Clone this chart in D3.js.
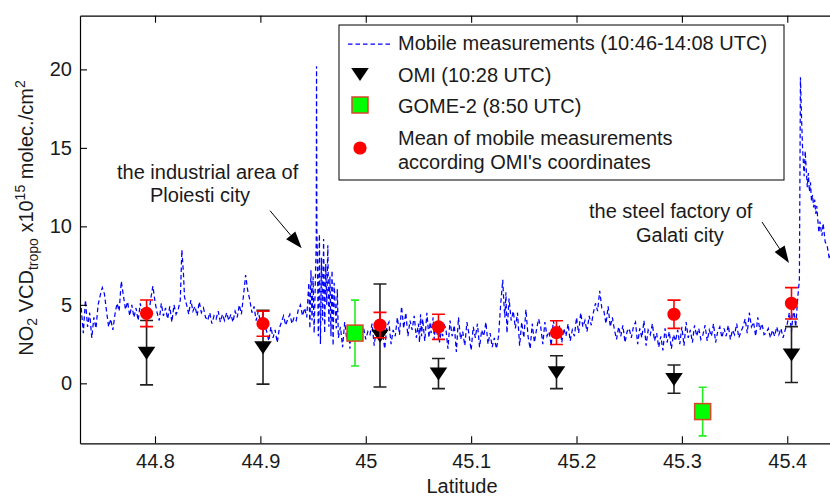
<!DOCTYPE html>
<html><head><meta charset="utf-8">
<script src="https://cdn.jsdelivr.net/npm/d3@7"></script>
<style>
html,body{margin:0;padding:0;background:#fff;}
svg{display:block;font-family:"Liberation Sans",Arial,sans-serif;}
text{white-space:pre;}
</style></head><body>
<svg id="chart" width="830" height="496"></svg>
<script>
// ---------- data ----------
const xTicks = [44.8, 44.9, 45.0, 45.1, 45.2, 45.3, 45.4];
const xTickLabels = ["44.8", "44.9", "45", "45.1", "45.2", "45.3", "45.4"];
const yTicks = [0, 5, 10, 15, 20];
const legendLabels = ["Mobile measurements (10:46-14:08 UTC)", "OMI (10:28 UTC)", "GOME-2 (8:50 UTC)",
  "Mean of mobile measurements", "according OMI's coordinates"];

// mobile measurements [latitude, NO2 VCD]
const mobileSeries = [
[44.730,4.8],[44.732,3.2],[44.734,5.3],[44.736,3.6],[44.738,4.5],[44.740,2.9],[44.742,4.2],[44.744,3.5],
[44.746,5.0],[44.748,5.6],[44.750,6.1],[44.752,5.7],[44.754,4.6],[44.756,3.6],[44.758,4.1],[44.760,3.4],
[44.762,4.4],[44.764,5.1],[44.766,4.6],[44.768,6.5],[44.770,5.6],[44.772,4.7],[44.774,5.2],[44.776,4.3],
[44.778,5.0],[44.780,4.2],[44.782,4.8],[44.784,4.0],[44.786,5.1],[44.788,4.4],[44.790,4.7],[44.792,5.0],
[44.794,4.3],[44.796,5.4],[44.798,6.2],[44.800,5.2],[44.802,4.5],[44.804,4.0],[44.806,5.1],[44.808,4.3],
[44.810,4.8],[44.812,4.1],[44.814,4.9],[44.816,3.9],[44.818,5.0],[44.820,4.4],[44.822,4.7],[44.824,5.3],
[44.8255,8.5],[44.827,7.0],[44.828,5.5],[44.830,5.0],[44.832,4.4],[44.834,5.3],[44.836,4.6],[44.838,4.9],
[44.840,4.3],[44.842,5.2],[44.844,4.5],[44.846,4.8],[44.848,4.2],[44.850,4.0],[44.852,4.5],[44.854,3.8],
[44.856,4.3],[44.858,4.1],[44.860,4.6],[44.862,3.9],[44.864,4.4],[44.866,4.0],[44.868,4.5],[44.870,4.0],
[44.872,4.4],[44.874,3.9],[44.876,4.6],[44.878,4.2],[44.880,5.0],[44.882,4.4],[44.884,5.6],[44.886,6.9],
[44.888,5.9],[44.890,5.3],[44.892,4.5],[44.894,4.9],[44.896,4.0],[44.898,4.6],[44.900,3.9],[44.902,4.4],
[44.904,3.7],[44.906,3.3],[44.908,2.7],[44.910,3.6],[44.912,2.9],[44.914,3.4],[44.916,2.6],[44.918,3.5],
[44.920,3.9],[44.922,4.3],[44.924,3.7],[44.926,4.1],[44.928,4.4],[44.930,3.8],[44.932,4.2],[44.934,4.0],
[44.936,4.7],[44.938,5.0],[44.940,4.3],[44.942,4.8],[44.944,4.2],[44.946,6.4],[44.947,3.5],[44.948,7.2],
[44.949,4.0],[44.950,6.8],[44.951,3.2],[44.952,6.0],[44.9530,9.0],[44.9533,20.2],[44.9536,9.8],
[44.954,8.4],[44.955,3.0],[44.956,9.5],[44.957,2.5],[44.958,8.0],[44.959,4.0],[44.960,9.2],[44.961,3.2],
[44.962,7.6],[44.963,5.0],[44.964,8.8],[44.965,3.6],[44.966,6.8],[44.967,3.0],[44.968,7.2],[44.969,2.4],
[44.970,6.4],[44.972,3.5],[44.973,6.0],[44.974,2.9],[44.976,3.6],[44.978,2.3],[44.980,3.9],[44.982,2.8],
[44.984,3.3],[44.985,2.2],[44.986,3.7],[44.988,3.2],[44.990,3.6],[44.992,2.9],[44.994,3.4],[44.996,3.0],
[44.998,3.5],[45.000,2.8],[45.002,3.3],[45.004,3.1],[45.006,3.8],[45.008,2.4],[45.010,3.5],[45.012,4.0],
[45.014,2.7],[45.016,3.2],[45.018,2.2],[45.020,3.6],[45.022,3.9],[45.024,2.5],[45.026,3.4],[45.028,3.0],
[45.030,4.2],[45.032,3.1],[45.034,4.9],[45.036,3.5],[45.038,4.5],[45.040,3.0],[45.042,4.0],[45.044,3.4],
[45.046,4.3],[45.048,2.9],[45.050,3.8],[45.051,2.6],[45.052,4.4],[45.053,3.0],[45.054,4.1],[45.056,2.7],
[45.057,3.6],[45.058,4.5],[45.060,2.9],[45.061,3.9],[45.062,3.2],[45.064,4.2],[45.065,2.8],[45.066,3.7],
[45.068,3.1],[45.069,4.0],[45.070,2.6],[45.072,3.5],[45.073,3.0],[45.074,3.8],[45.076,3.5],[45.078,2.2],
[45.080,4.0],[45.082,3.0],[45.084,3.7],[45.086,2.0],[45.088,4.2],[45.090,2.8],[45.092,3.3],[45.094,2.4],
[45.096,3.9],[45.098,3.1],[45.100,2.1],[45.102,3.6],[45.104,2.9],[45.106,3.8],[45.108,2.3],[45.110,3.4],
[45.112,3.0],[45.114,3.9],[45.116,2.5],[45.118,3.2],[45.120,2.3],[45.122,2.9],[45.124,2.2],[45.126,3.0],
[45.128,5.0],[45.130,6.6],[45.131,5.2],[45.132,4.2],[45.133,5.8],[45.134,3.2],[45.136,5.4],[45.138,4.0],
[45.140,4.6],[45.142,3.5],[45.144,4.5],[45.146,2.4],[45.148,3.9],[45.150,2.9],[45.152,4.7],[45.154,3.0],
[45.156,2.2],[45.158,3.8],[45.160,2.6],[45.162,3.4],[45.164,4.1],[45.166,3.6],[45.168,2.5],[45.170,3.9],
[45.172,3.0],[45.174,3.3],[45.176,2.4],[45.178,4.0],[45.180,3.2],[45.182,2.8],[45.184,3.7],[45.186,2.6],
[45.188,3.5],[45.190,3.0],[45.192,3.8],[45.194,2.7],[45.196,3.4],[45.198,3.0],[45.200,4.2],[45.202,3.2],
[45.204,4.5],[45.206,3.6],[45.208,4.0],[45.210,3.3],[45.212,4.3],[45.214,3.7],[45.216,4.5],[45.218,5.1],
[45.220,4.6],[45.222,5.9],[45.224,4.8],[45.226,4.6],[45.228,3.8],[45.230,4.9],[45.232,3.6],[45.234,4.2],
[45.236,3.4],[45.238,2.8],[45.240,3.6],[45.242,3.0],[45.244,3.7],[45.246,2.6],[45.248,3.3],[45.250,3.5],
[45.252,2.9],[45.254,3.6],[45.256,3.9],[45.258,2.5],[45.260,3.5],[45.262,2.9],[45.264,4.0],[45.266,2.4],
[45.268,3.4],[45.270,3.1],[45.272,3.8],[45.274,2.7],[45.276,3.2],[45.278,2.3],[45.280,3.0],[45.282,2.1],
[45.284,3.5],[45.286,2.6],[45.288,3.3],[45.290,2.2],[45.292,3.1],[45.294,2.7],[45.296,3.4],[45.298,2.5],
[45.300,3.6],[45.302,2.4],[45.304,3.9],[45.306,2.9],[45.308,3.4],[45.310,2.6],[45.312,3.7],[45.314,3.0],
[45.316,3.5],[45.318,2.8],[45.320,3.1],[45.322,3.7],[45.324,2.7],[45.326,3.4],[45.328,3.0],[45.330,3.8],
[45.332,2.6],[45.334,3.3],[45.336,3.6],[45.338,2.9],[45.340,3.5],[45.342,3.0],[45.344,3.7],[45.346,2.8],
[45.348,3.4],[45.350,3.1],[45.352,3.8],[45.354,2.9],[45.356,3.3],[45.358,3.6],[45.360,4.1],[45.362,3.2],
[45.364,4.5],[45.366,3.6],[45.368,3.9],[45.370,3.0],[45.372,4.2],[45.374,3.4],[45.376,3.8],[45.378,3.1],
[45.380,3.2],[45.382,3.5],[45.384,2.9],[45.386,3.4],[45.388,3.0],[45.390,3.6],[45.392,3.1],[45.394,3.5],
[45.396,2.9],[45.398,3.4],[45.400,3.8],[45.402,4.5],[45.404,3.3],[45.406,4.8],[45.408,3.6],[45.410,5.5],
[45.4115,6.6],[45.4125,19.5],[45.4135,17.0],[45.4145,15.0],[45.4150,14.4],[45.416,13.2],[45.417,14.8],
[45.418,13.6],[45.419,12.5],[45.420,13.4],[45.421,12.2],[45.422,12.8],[45.423,11.6],[45.424,12.0],
[45.425,11.2],[45.426,11.7],[45.427,10.8],[45.428,11.3],[45.429,10.4],[45.430,9.6],[45.431,10.3],
[45.432,9.8],[45.433,9.4],[45.434,10.2],[45.436,9.0],[45.438,8.7],[45.440,7.9],[45.442,8.4]
];

// OMI (10:28 UTC)
const omiLat = [44.792, 44.9025, 45.0135, 45.069, 45.181, 45.2925, 45.404];
const omiVal = [1.95, 2.3, 3.05, 0.62, 0.71, 0.27, 1.83];
const omiErr = [2.05, 2.35, 3.28, 0.96, 1.05, 0.9, 1.78];
// Mean of mobile measurements according to OMI's coordinates
const meanVal = [4.46, 3.8, 3.71, 3.6, 3.23, 4.4, 5.1];
const meanErr = [0.85, 0.8, 0.81, 0.8, 0.76, 0.9, 1.0];
// GOME-2 (8:50 UTC)
const gomeLat = [44.9898, 45.3197];
const gomeVal = [3.2, -1.8];
const gomeErr = [2.1, 1.55];

// ---------- layout ----------
const L = 80, R = 844, T = 15.7, B = 443.3;
const svg = d3.select("#chart");
const x = d3.scaleLinear().domain([44.72883, 45.45383]).range([L, R]);
const y = d3.scaleLinear().domain([-3.82, 23.42]).range([B, T]);
const FS = 20, TXT = "#1a1a1a";

svg.append("defs").append("clipPath").attr("id", "plotclip")
  .append("rect").attr("x", L).attr("y", T).attr("width", R - L).attr("height", B - T);

const plot = svg.append("g").attr("clip-path", "url(#plotclip)");

// mobile line
plot.append("path").datum(mobileSeries)
  .attr("fill", "none").attr("stroke", "#0000ff").attr("stroke-width", 1.25)
  .attr("stroke-dasharray", "4.5,3")
  .attr("d", d3.line().x(d => x(d[0])).y(d => y(d[1])));

function errBars(g, lats, vals, errs, color, capW, sw) {
  lats.forEach((la, i) => {
    const cx = x(la), y0 = y(vals[i] - errs[i]), y1 = y(vals[i] + errs[i]);
    g.append("line").attr("x1", cx).attr("x2", cx).attr("y1", y0).attr("y2", y1)
      .attr("stroke", color).attr("stroke-width", sw);
    [y0, y1].forEach(yy => g.append("line").attr("x1", cx - capW / 2).attr("x2", cx + capW / 2)
      .attr("y1", yy).attr("y2", yy).attr("stroke", color).attr("stroke-width", sw));
  });
}
const triPath = "M-8.8,-6 L8.8,-6 L0,7 Z";

// OMI
const gOmi = plot.append("g");
errBars(gOmi, omiLat, omiVal, omiErr, "#202020", 13, 1.6);
gOmi.selectAll("path.tri").data(omiLat).join("path").attr("class", "tri")
  .attr("d", triPath).attr("fill", "#000")
  .attr("transform", (d, i) => `translate(${x(d)},${y(omiVal[i])})`);

// GOME-2
const gG = plot.append("g");
errBars(gG, gomeLat, gomeVal, gomeErr, "#22ee22", 8, 1.6);
gG.selectAll("rect").data(gomeLat).join("rect")
  .attr("x", d => x(d) - 8).attr("y", (d, i) => y(gomeVal[i]) - 8)
  .attr("width", 16).attr("height", 16)
  .attr("fill", "#00ff00").attr("stroke", "#d9472b").attr("stroke-width", 1.5);

// Mean
const gM = plot.append("g");
errBars(gM, omiLat, meanVal, meanErr, "#ff0000", 13, 1.6);
gM.selectAll("circle").data(omiLat).join("circle")
  .attr("cx", d => x(d)).attr("cy", (d, i) => y(meanVal[i])).attr("r", 6.6)
  .attr("fill", "#ff0000");

// ---------- axes ----------
function styleAxis(g) {
  g.attr("font-family", null).attr("font-size", null);
  g.select(".domain").attr("stroke", "#000").attr("stroke-width", 1.2);
  g.selectAll(".tick line").attr("stroke", "#000").attr("stroke-width", 1.1);
  g.selectAll(".tick text").attr("font-size", FS).attr("fill", TXT);
}
svg.append("g").attr("transform", `translate(0,${B})`)
  .call(d3.axisBottom(x).tickValues(xTicks).tickFormat((d, i) => xTickLabels[i])
    .tickSize(-7).tickSizeOuter(0).tickPadding(11)).call(styleAxis);
svg.append("g").attr("transform", `translate(0,${T})`)
  .call(d3.axisTop(x).tickValues(xTicks).tickFormat("").tickSize(-7).tickSizeOuter(0)).call(styleAxis);
svg.append("g").attr("transform", `translate(${L},0)`)
  .call(d3.axisLeft(y).tickValues(yTicks).tickFormat(d3.format("d"))
    .tickSize(-7).tickSizeOuter(0).tickPadding(8)).call(styleAxis);

// axis labels
svg.append("text").attr("x", 462).attr("y", 493).attr("text-anchor", "middle")
  .attr("font-size", FS).attr("fill", TXT).text("Latitude");

const yl = svg.append("text").attr("transform", "translate(33,218) rotate(-90)")
  .attr("text-anchor", "middle").attr("font-size", FS).attr("fill", TXT);
yl.append("tspan").text("NO");
yl.append("tspan").attr("font-size", 14).attr("dy", 4).text("2");
yl.append("tspan").attr("dy", -4).text(" VCD");
yl.append("tspan").attr("font-size", 14).attr("dy", 5).text("tropo");
yl.append("tspan").attr("dy", -5).text(" x10");
yl.append("tspan").attr("font-size", 14).attr("dy", -8).text("15");
yl.append("tspan").attr("dy", 8).text(" molec./cm");
yl.append("tspan").attr("font-size", 14).attr("dy", -8).text("2");

// ---------- annotations ----------
function note(lines) {
  lines.forEach(l => svg.append("text").attr("x", l[0]).attr("y", l[1])
    .attr("font-size", FS).attr("fill", TXT).text(l[2]));
}
note([[117, 179, "the industrial area of"], [150, 202, "Ploiesti city"]]);
note([[589, 218, "the steel factory of"], [636, 242, "Galati city"]]);

function arrow(x0, y0, x1, y1) {
  const ang = Math.atan2(y1 - y0, x1 - x0), hl = 17, hw = 6;
  const bx = x1 - hl * Math.cos(ang), by = y1 - hl * Math.sin(ang);
  svg.append("line").attr("x1", x0).attr("y1", y0).attr("x2", bx).attr("y2", by)
    .attr("stroke", "#000").attr("stroke-width", 1);
  const px = -Math.sin(ang) * hw, py = Math.cos(ang) * hw;
  svg.append("path").attr("d", `M${x1},${y1}L${bx + px},${by + py}L${bx - px},${by - py}Z`).attr("fill", "#000");
}
arrow(270, 210.7, 301.7, 248.3);
arrow(762, 222, 789, 263);

// ---------- legend ----------
const lg = svg.append("g");
lg.append("rect").attr("x", 339).attr("y", 25).attr("width", 445).attr("height", 155)
  .attr("fill", "#fff").attr("stroke", "#000").attr("stroke-width", 1);
lg.append("line").attr("x1", 348).attr("x2", 390).attr("y1", 44).attr("y2", 44)
  .attr("stroke", "#0000ff").attr("stroke-width", 1.25).attr("stroke-dasharray", "4.5,3");
lg.append("path").attr("d", triPath).attr("fill", "#000").attr("transform", "translate(360,74)");
lg.append("rect").attr("x", 352).attr("y", 97).attr("width", 16).attr("height", 16)
  .attr("fill", "#00ff00").attr("stroke", "#d9472b").attr("stroke-width", 1.5);
lg.append("circle").attr("cx", 360).attr("cy", 148).attr("r", 6.6).attr("fill", "#ff0000");
const lgY = [50, 81.5, 112.5, 145, 168.5];
legendLabels.forEach((t, i) => lg.append("text").attr("x", 398).attr("y", lgY[i])
  .attr("font-size", FS).attr("fill", TXT).text(t));
</script>
</body></html>
